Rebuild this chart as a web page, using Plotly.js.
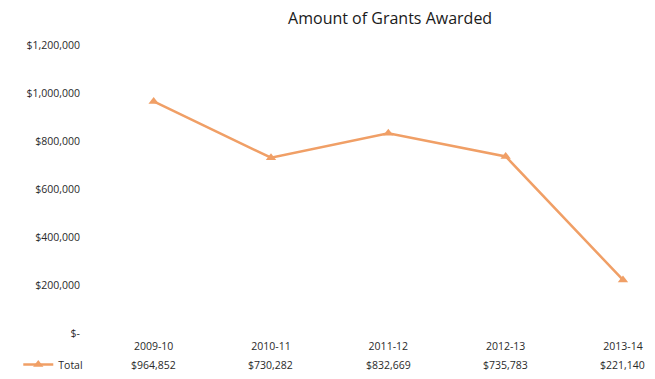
<!DOCTYPE html>
<html>
<head>
<meta charset="utf-8">
<script src="https://cdn.plot.ly/plotly-3.0.1.min.js"></script>
<style>html,body{margin:0;padding:0;background:#fff;}#chart{width:655px;height:379px;}</style>
</head>
<body>
<div id="chart"></div>
<script>
const categories = ["2009-10", "2010-11", "2011-12", "2012-13", "2013-14"];
const totals = [964852, 730282, 832669, 735783, 221140];
const yTicks = [0, 200000, 400000, 600000, 800000, 1000000, 1200000];
const seriesName = "Total";

const fmt = v => v === 0 ? "$-" : "$" + v.toLocaleString("en-US");
const lineColor = "#F09F66";
const textColor = "#2a2a2a";
const font = "Open Sans, sans-serif";

const idx = categories.map((c, i) => i);

const trace = {
  x: idx,
  y: totals,
  type: "scatter",
  mode: "lines+markers",
  name: seriesName,
  line: {color: lineColor, width: 2.5},
  marker: {symbol: "triangle-up", size: 9, color: lineColor},
  hoverinfo: "skip"
};

const annotations = totals.map((v, i) => ({
  x: i, y: -0.11, xref: "x", yref: "paper",
  text: fmt(v), showarrow: false,
  font: {family: font, size: 10.5, color: textColor},
  xanchor: "center", yanchor: "middle"
}));

const layout = {
  width: 655, height: 379,
  margin: {l: 95, r: 0, t: 45, b: 44},
  paper_bgcolor: "#fff", plot_bgcolor: "#fff",
  title: {text: "Amount of Grants Awarded", x: 0.527, xref: "paper", xanchor: "center", y: 0.952, yanchor: "middle",
          font: {family: font, size: 16, color: "#1a1a1a"}},
  xaxis: {
    range: [-0.5, 4.273], tickvals: idx, ticktext: categories,
    showgrid: false, zeroline: false, showline: false, ticks: "",
    ticklabelstandoff: 5,
    tickfont: {family: font, size: 10.5, color: textColor}, fixedrange: true
  },
  yaxis: {
    range: [0, 1200000], tickvals: yTicks, ticktext: yTicks.map(fmt),
    showgrid: false, zeroline: false, showline: false, ticks: "",
    ticklabelstandoff: 14,
    tickfont: {family: font, size: 10.5, color: textColor}, fixedrange: true
  },
  showlegend: true,
  legend: {x: -0.137, y: -0.11, xanchor: "left", yanchor: "middle", orientation: "h",
           font: {family: font, size: 10.5, color: textColor}, bgcolor: "rgba(0,0,0,0)", itemwidth: 30},
  annotations: annotations
};

Plotly.newPlot("chart", [trace], layout, {displayModeBar: false, staticPlot: true});
</script>
</body>
</html>
